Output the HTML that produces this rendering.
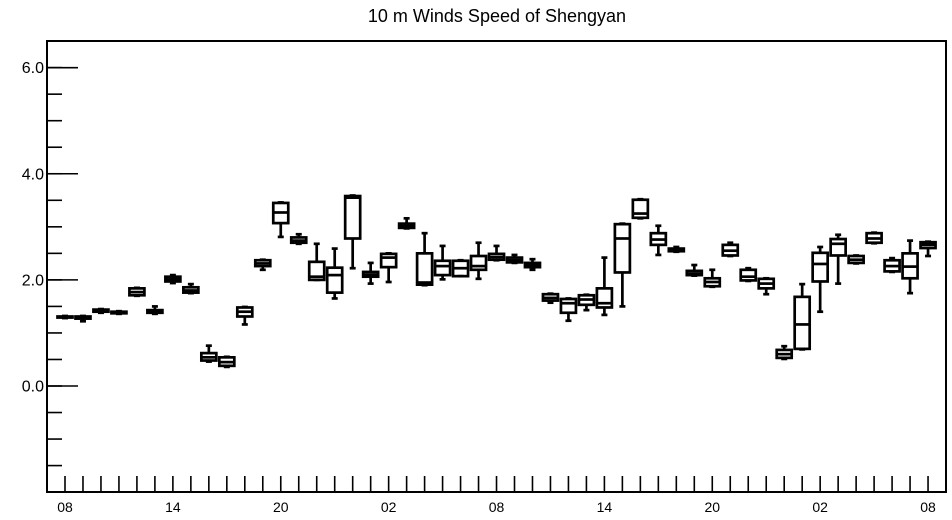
<!DOCTYPE html>
<html><head><meta charset="utf-8"><style>
html,body{margin:0;padding:0;background:#fff;}
svg{display:block;font-family:"Liberation Sans",Arial,sans-serif;}
</style></head><body>
<svg id="chart" width="952" height="520" viewBox="0 0 952 520">
<text x="497" y="22" text-anchor="middle" font-size="18">10 m Winds Speed of Shengyan</text>
<rect x="47" y="41" width="899" height="451" fill="none" stroke="#000" stroke-width="2"/>
<g id="yaxis"></g>
<g id="xaxis"></g>
<g id="boxes"></g>
</svg>
<script>
const yTickValues = [0, 2, 4, 6];
const yTickLabels = ["0.0", "2.0", "4.0", "6.0"];
const xTickLabels = ["08","14","20","02","08","14","20","02","08"];
const mins = [1.28,1.22,1.38,1.36,1.70,1.36,1.94,1.75,0.46,0.36,1.16,2.19,2.81,2.68,2.00,1.65,2.22,1.93,1.96,2.97,1.90,2.01,2.07,2.02,2.37,2.32,2.19,1.57,1.23,1.43,1.34,1.50,3.16,2.47,2.53,2.08,1.87,2.45,1.98,1.73,0.51,0.69,1.40,1.93,2.31,2.69,2.15,1.75,2.45];
const q1s  = [1.29,1.27,1.40,1.37,1.71,1.38,1.97,1.76,0.48,0.38,1.31,2.26,3.07,2.70,2.00,1.76,2.78,2.06,2.24,2.98,1.91,2.09,2.07,2.19,2.38,2.33,2.24,1.61,1.38,1.53,1.48,2.14,3.17,2.66,2.54,2.09,1.88,2.46,1.99,1.84,0.53,0.70,1.97,2.46,2.32,2.70,2.16,2.03,2.60];
const meds = [1.30,1.29,1.42,1.38,1.77,1.40,2.01,1.80,0.54,0.45,1.40,2.31,3.27,2.74,2.06,2.09,3.55,2.10,2.42,3.01,1.95,2.26,2.22,2.26,2.43,2.37,2.28,1.66,1.56,1.63,1.56,2.78,3.25,2.76,2.56,2.12,1.96,2.55,2.06,1.93,0.60,1.16,2.30,2.68,2.38,2.78,2.26,2.25,2.66];
const q3s  = [1.31,1.31,1.44,1.40,1.84,1.43,2.06,1.86,0.62,0.54,1.48,2.37,3.45,2.80,2.34,2.23,3.58,2.15,2.49,3.06,2.50,2.36,2.36,2.45,2.49,2.42,2.32,1.73,1.64,1.71,1.84,3.05,3.51,2.88,2.59,2.17,2.03,2.66,2.19,2.02,0.68,1.68,2.51,2.77,2.45,2.88,2.37,2.50,2.71];
const maxs = [1.32,1.32,1.45,1.41,1.85,1.50,2.09,1.92,0.76,0.55,1.49,2.38,3.46,2.86,2.68,2.59,3.59,2.32,2.50,3.16,2.88,2.64,2.37,2.70,2.64,2.47,2.39,1.74,1.65,1.72,2.42,3.06,3.52,3.02,2.62,2.28,2.19,2.70,2.22,2.03,0.75,1.92,2.62,2.85,2.46,2.89,2.41,2.74,2.72];

const NS="http://www.w3.org/2000/svg";
const X0=65, DX=17.98, Y0=386, PPU=53.06;
function xs(i){return X0+i*DX;}
function ys(v){return Y0-v*PPU;}
function mk(tag,attrs,parent){const e=document.createElementNS(NS,tag);for(const k in attrs)e.setAttribute(k,attrs[k]);parent.appendChild(e);return e;}
const ya=document.getElementById('yaxis');
for(let v=-1.5; v<=6.5; v+=0.5){
  const l=mk('line',{x1:47,x2:62,y1:ys(v),y2:ys(v),stroke:'#000','stroke-width':1.6},ya);
  
  
}
yTickValues.forEach((v,i)=>{
  const l=mk('line',{x1:47,x2:78,y1:ys(v),y2:ys(v),stroke:'#000','stroke-width':1.6},ya);
  
  
  const t=mk('text',{x:44,y:ys(v)+5.5,'text-anchor':'end','font-size':16},ya);
  t.textContent=yTickLabels[i];
  
  
});
const xa=document.getElementById('xaxis');
for(let i=0;i<mins.length;i++){
  const l=mk('line',{x1:xs(i),x2:xs(i),y1:492,y2:476,stroke:'#000','stroke-width':1.6},xa);
  
  
}
xTickLabels.forEach((s,k)=>{
  const t=mk('text',{x:xs(k*6),y:512,'text-anchor':'middle','font-size':14},xa);
  t.textContent=s;
  
  
});
const bg=document.getElementById('boxes');
const HW=7.5;
for(let i=0;i<mins.length;i++){
  const g=mk('g',{stroke:'#000','stroke-width':2.7,fill:'none'},bg);
  
  
  const x=xs(i);
  mk('line',{x1:x,x2:x,y1:ys(maxs[i]),y2:ys(q3s[i])},g);
  mk('line',{x1:x,x2:x,y1:ys(q1s[i]),y2:ys(mins[i])},g);
  mk('line',{x1:x-3,x2:x+3,y1:ys(maxs[i]),y2:ys(maxs[i])},g);
  mk('line',{x1:x-3,x2:x+3,y1:ys(mins[i]),y2:ys(mins[i])},g);
  const top=ys(q3s[i]), bot=ys(q1s[i]);
  mk('rect',{x:x-HW,y:top,width:2*HW,height:Math.max(bot-top,1)},g);
  mk('line',{x1:x-HW,x2:x+HW,y1:ys(meds[i]),y2:ys(meds[i])},g);
}
</script>
</body></html>
